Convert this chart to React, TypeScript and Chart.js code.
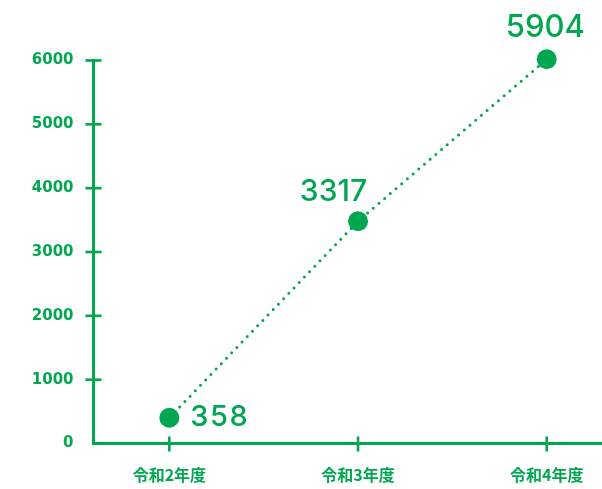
import React, { useEffect, useRef } from 'react';
import { Chart, registerables } from 'chart.js';

Chart.register(...registerables);

// ---- data ----
const categories = ['令和2年度', '令和3年度', '令和4年度'];
const plottedValues = [403, 3482, 6019];
const valueLabels = ['358', '3317', '5904'];
const yTickValues = [0, 1000, 2000, 3000, 4000, 5000, 6000];

const GREEN = '#00a650';

const crossTicks = {
  id: 'crossTicks',
  afterDraw(chart: any) {
    const ctx = chart.ctx;
    const { x, y } = chart.scales;
    const ax = chart.chartArea.left;
    const ay = chart.chartArea.bottom;
    ctx.save();
    ctx.strokeStyle = GREEN;
    ctx.lineWidth = 2.6;
    y.ticks.forEach((t: any) => {
      if (t.value === 0) return;
      const py = y.getPixelForValue(t.value);
      ctx.beginPath();
      ctx.moveTo(ax - 8, py);
      ctx.lineTo(ax + 8, py);
      ctx.stroke();
    });
    x.ticks.forEach((t: any) => {
      const px = x.getPixelForValue(t.value);
      ctx.beginPath();
      ctx.moveTo(px, ay - 7);
      ctx.lineTo(px, ay + 8);
      ctx.stroke();
    });
    ctx.restore();
  },
};

const valueLabelPlugin = {
  id: 'valueLabels',
  afterDatasetsDraw(chart: any, _args: any, opts: any) {
    const ctx = chart.ctx;
    const meta = chart.getDatasetMeta(0);
    ctx.save();
    ctx.fillStyle = GREEN;
    meta.data.forEach((pt: any, i: number) => {
      const o = opts.placements[i];
      ctx.font = `${opts.weight} ${o.size}px ${opts.family}`;
      (ctx as any).letterSpacing = `${o.spacing}px`;
      ctx.textAlign = o.align;
      ctx.textBaseline = 'alphabetic';
      ctx.fillText(valueLabels[i], pt.x + o.dx, pt.y + o.dy);
    });
    ctx.restore();
  },
};

export default function App() {
  const ref = useRef<HTMLCanvasElement>(null);
  useEffect(() => {
    if (!ref.current) return;
    const chart = new Chart(ref.current, {
      type: 'line',
      data: {
        datasets: [
          {
            data: plottedValues.map((v, i) => ({ x: i, y: v })),
            borderColor: GREEN,
            backgroundColor: GREEN,
            borderWidth: 3,
            borderDash: [0, 7.5],
            borderCapStyle: 'round',
            pointRadius: 10,
            pointBackgroundColor: GREEN,
            pointBorderWidth: 0,
            pointHoverRadius: 10,
            clip: false,
          } as any,
        ],
      },
      options: {
        animation: false,
        responsive: false,
        events: [],
        layout: { autoPadding: false, padding: { top: 60.5, right: 0, left: 0, bottom: 0 } },
        plugins: {
          legend: { display: false },
          tooltip: { enabled: false },
          valueLabels: {
            family: 'Inter, "DejaVu Sans", sans-serif',
            weight: '500',
            placements: [
              { size: 29, spacing: 1.5, align: 'left', dx: 21, dy: 8.7 },
              { size: 30, spacing: 0, align: 'right', dx: 9, dy: -20.3 },
              { size: 31, spacing: 0, align: 'center', dx: -1.4, dy: -22.6 },
            ],
          },
        } as any,
        scales: {
          x: {
            type: 'linear',
            min: -0.402,
            max: 2.293,
            afterBuildTicks: (s: any) => {
              s.ticks = categories.map((_, i) => ({ value: i }));
            },
            afterFit: (s: any) => {
              s.height = 45.5;
              s.paddingLeft = 0;
              s.paddingRight = 0;
            },
            ticks: {
              callback: (v: any) => categories[v] ?? '',
              color: GREEN,
              font: { family: '"Noto Sans CJK JP", sans-serif', size: 16, weight: 'bold' },
              padding: 22,
              maxRotation: 0,
              autoSkip: false,
            },
            grid: { display: false, drawTicks: false },
            border: { display: true, color: GREEN, width: 3 },
          },
          y: {
            min: 0,
            max: 6000,
            afterBuildTicks: (s: any) => {
              s.ticks = yTickValues.map((v) => ({ value: v }));
            },
            afterFit: (s: any) => {
              s.width = 93.5;
            },
            ticks: {
              callback: (v: any) => String(v),
              color: GREEN,
              font: { family: '"DejaVu Sans", sans-serif', size: 15, weight: 'bold' },
              padding: 20,
            },
            grid: { display: false, drawTicks: false },
            border: { display: true, color: GREEN, width: 3 },
          },
        } as any,
      },
      plugins: [crossTicks, valueLabelPlugin],
    });
    return () => chart.destroy();
  }, []);
  return (
    <div style={{ position: 'absolute', left: 0, top: 0, width: 602, height: 489 }}>
      <canvas ref={ref} width={602} height={489} />
    </div>
  );
}
